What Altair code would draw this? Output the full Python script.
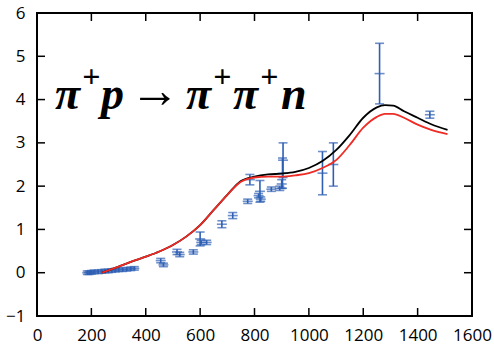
import altair as alt
import pandas as pd

# Axis ticks
x_ticks = [0, 200, 400, 600, 800, 1000, 1200, 1400, 1600]
y_ticks = [-1, 0, 1, 2, 3, 4, 5, 6]

# Measured cross sections (energy, value, error)
meas_e = [185, 192, 200, 210, 225, 238, 250, 262, 275, 288, 300, 315, 330, 345, 358,
          455, 465, 515, 525, 575, 600, 604, 624, 680, 720, 775, 783, 815, 820, 823,
          862, 893, 900, 903, 905, 1050, 1090, 1260, 1445]
meas_y = [0.0, 0.0, 0.01, 0.02, 0.02, 0.03, 0.04, 0.04, 0.05, 0.06, 0.07, 0.07, 0.08, 0.09, 0.10,
          0.28, 0.18, 0.48, 0.42, 0.48, 0.78, 0.70, 0.70, 1.12, 1.32, 1.65, 2.15, 1.78, 1.88, 1.70,
          1.93, 1.95, 2.05, 2.30, 2.60, 2.30, 2.50, 4.60, 3.65]
meas_err = [0.04, 0.04, 0.04, 0.04, 0.04, 0.04, 0.04, 0.04, 0.04, 0.04, 0.04, 0.04, 0.04, 0.04, 0.04,
            0.05, 0.04, 0.06, 0.05, 0.05, 0.16, 0.05, 0.05, 0.08, 0.07, 0.05, 0.12, 0.05, 0.25, 0.05,
            0.05, 0.05, 0.10, 0.35, 0.40, 0.50, 0.50, 0.70, 0.08]

# Model curves
curve_e = [240, 270, 300, 350, 400, 450, 500, 550, 600, 650, 700, 750, 800, 850, 900,
           950, 1000, 1050, 1100, 1150, 1200, 1250, 1280, 1310, 1350, 1400, 1450, 1510]
curve_black = [0.0, 0.07, 0.14, 0.26, 0.37, 0.49, 0.64, 0.84, 1.10, 1.45, 1.80, 2.12, 2.22, 2.27, 2.29,
               2.33, 2.42, 2.58, 2.83, 3.18, 3.58, 3.82, 3.87, 3.86, 3.73, 3.58, 3.43, 3.30]
curve_red = [0.0, 0.07, 0.14, 0.26, 0.37, 0.49, 0.64, 0.84, 1.10, 1.45, 1.80, 2.10, 2.20, 2.22, 2.22,
             2.25, 2.30, 2.42, 2.60, 2.95, 3.35, 3.60, 3.67, 3.67, 3.58, 3.42, 3.30, 3.20]

# Reaction label pieces: (text, x offset, raised)
label_pieces = [("π", 18, False), ("+", 45, True), ("p", 64, False),
                ("π", 149, False), ("+", 176, True), ("π", 196, False), ("+", 223, True),
                ("n", 244, False)]
arrow_piece = ("→", 93)

W, H = 435, 303
BLUE = "#2F5FB3"

meas = pd.DataFrame({"e": meas_e, "y": meas_y, "err": meas_err})
meas["lo"] = meas["y"] - meas["err"]
meas["hi"] = meas["y"] + meas["err"]

curves = pd.DataFrame({"e": curve_e, "black": curve_black, "red": curve_red})

xs = alt.Scale(domain=[0, 1600], nice=False, zero=False)
ys = alt.Scale(domain=[-1, 6], nice=False, zero=False)

x_axis = alt.Axis(values=x_ticks, format="d", ticks=False, domain=False, grid=False, labelFontSize=17,
                  labelFont="Open Sans", labelColor="black", labelPadding=11,
                  labelFlush=False, labelOverlap=False, labelBound=False)
y_axis = alt.Axis(values=y_ticks, format="d", ticks=False, domain=False, grid=False, labelFontSize=17,
                  labelFont="Open Sans", labelColor="black", labelPadding=12,
                  labelFlush=False, labelOverlap=False, labelBound=False)


def X(field):
    return alt.X(field, scale=xs, axis=x_axis, title=None)


def Y(field):
    return alt.Y(field, scale=ys, axis=y_axis, title=None)


black_line = alt.Chart(curves).mark_line(color="black", strokeWidth=1.8, interpolate="monotone").encode(
    x=X("e:Q"), y=Y("black:Q"))
red_line = alt.Chart(curves).mark_line(color="#EE2B24", strokeWidth=1.8, interpolate="monotone").encode(
    x=X("e:Q"), y=Y("red:Q"))

bars = alt.Chart(meas).mark_rule(color=BLUE, strokeWidth=1.6).encode(
    x=X("e:Q"), y=Y("lo:Q"), y2="hi:Q")
cap_lo = alt.Chart(meas).mark_tick(color=BLUE, orient="horizontal", size=9, thickness=1.6).encode(
    x=X("e:Q"), y=Y("lo:Q"))
cap_hi = alt.Chart(meas).mark_tick(color=BLUE, orient="horizontal", size=9, thickness=1.6).encode(
    x=X("e:Q"), y=Y("hi:Q"))
centre = alt.Chart(meas).mark_tick(color=BLUE, orient="horizontal", size=10, thickness=1.6).encode(
    x=X("e:Q"), y=Y("y:Q"))

# Inward tick marks on all four sides of the frame
tick_y = pd.DataFrame({"t": y_ticks})
tick_x = pd.DataFrame({"t": x_ticks})
ticks_left = alt.Chart(tick_y).mark_rule(color="black", strokeWidth=1.5).encode(
    y=Y("t:Q"), x=alt.value(0), x2=alt.value(8))
ticks_right = alt.Chart(tick_y).mark_rule(color="black", strokeWidth=1.5).encode(
    y=Y("t:Q"), x=alt.value(W - 8), x2=alt.value(W))
ticks_bottom = alt.Chart(tick_x).mark_rule(color="black", strokeWidth=1.5).encode(
    x=X("t:Q"), y=alt.value(H - 8), y2=alt.value(H))
ticks_top = alt.Chart(tick_x).mark_rule(color="black", strokeWidth=1.5).encode(
    x=X("t:Q"), y=alt.value(0), y2=alt.value(8))

label_layers = []
for txt, dx, raised in label_pieces:
    label_layers.append(
        alt.Chart(pd.DataFrame({"s": [txt]})).mark_text(
            font="Liberation Serif", fontStyle="italic", fontWeight="bold",
            fontSize=32 if raised else 46, align="left", baseline="alphabetic", color="black",
        ).encode(text="s:N", x=alt.value(dx), y=alt.value(74 if raised else 96))
    )
label_layers.append(
    alt.Chart(pd.DataFrame({"s": [arrow_piece[0]]})).mark_text(
        font="Liberation Serif", fontSize=50, align="left", baseline="alphabetic", color="black",
    ).encode(text="s:N", x=alt.value(arrow_piece[1]), y=alt.value(94))
)

chart = alt.layer(
    ticks_left, ticks_right, ticks_bottom, ticks_top,
    bars, cap_lo, cap_hi, centre,
    black_line, red_line,
    *label_layers,
).properties(
    width=W, height=H,
    autosize=alt.AutoSizeParams(type="none"),
    padding={"left": 37, "top": 13, "right": 22, "bottom": 35},
).configure_view(stroke="black", strokeWidth=2)

chart.save("out.html", embed_options={"renderer": "svg", "actions": False})
